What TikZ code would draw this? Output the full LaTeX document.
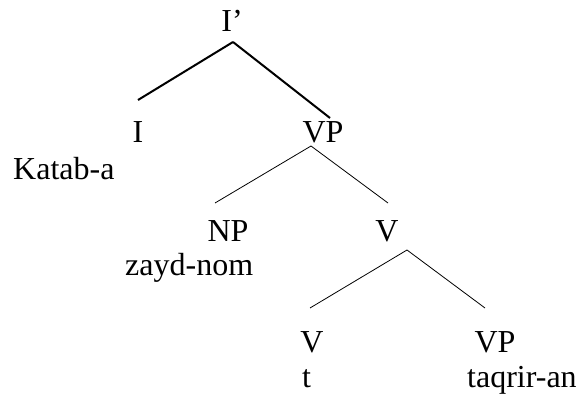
\documentclass[tikz,border=0pt]{standalone}
\usepackage{fontspec}
\setmainfont{Liberation Serif}
\begin{document}
\begin{tikzpicture}[x=1pt, y=-1pt, every node/.style={font=\fontsize{32}{38}\selectfont, inner sep=0pt, anchor=base}]
    \useasboundingbox (0,0) rectangle (580,396);

    \node (ip) at (232,32) {I’};
    \node (i) at (138,142) {I};
    \node (vp) at (323,142) {VP};
    \node[anchor=base west] (katab) at (13,179) {Katab-a};

    \node (np) at (228,241) {NP};
    \node (v) at (387,241) {V};
    \node[anchor=base west] (zayd) at (125,275) {zayd-nom};

    \node (vt) at (312,352) {V};
    \node (vpb) at (495,352) {VP};
    \node[anchor=base west] (t) at (302,387) {t};
    \node[anchor=base west] (taqrir) at (467,387) {taqrir-an};

    \draw[line width=2pt] ([xshift=1pt,yshift=-10pt]ip.base) -- ([yshift=42pt]i.base);
    \draw[line width=2pt] ([xshift=1pt,yshift=-10pt]ip.base) -- ([xshift=7pt,yshift=24pt]vp.base);

    \draw[line width=0.8pt] ([xshift=-12pt,yshift=-4pt]vp.base) -- ([xshift=-13pt,yshift=38pt]np.base);
    \draw[line width=0.8pt] ([xshift=-12pt,yshift=-4pt]vp.base) -- ([xshift=1pt,yshift=38pt]v.base);

    \draw[line width=0.8pt] ([xshift=20pt,yshift=-9pt]v.base) -- ([xshift=-2pt,yshift=44pt]vt.base);
    \draw[line width=0.8pt] ([xshift=20pt,yshift=-9pt]v.base) -- ([xshift=-10pt,yshift=44pt]vpb.base);
  \end{tikzpicture}
\end{document}
